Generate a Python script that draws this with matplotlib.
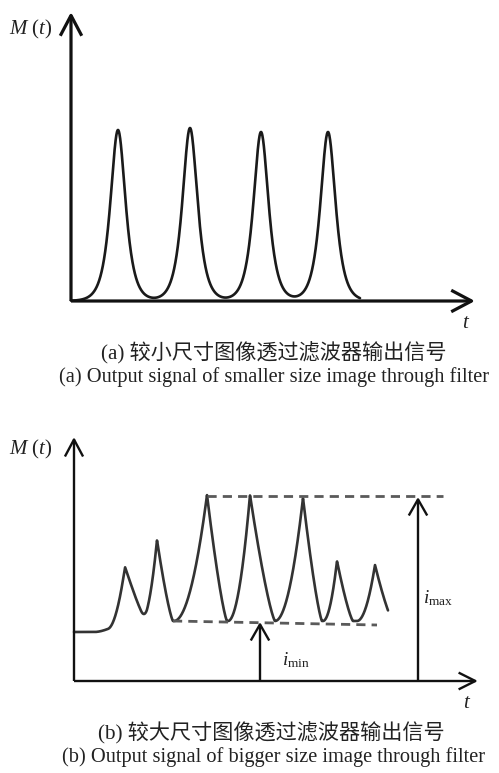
import numpy as np
import matplotlib
matplotlib.use("Agg")
import matplotlib.pyplot as plt

plt.rcParams['mathtext.fontset'] = 'custom'
plt.rcParams['mathtext.it'] = 'Liberation Serif:italic'
plt.rcParams['mathtext.rm'] = 'Liberation Serif'
plt.rcParams['font.family'] = ['Liberation Serif', 'Noto Sans CJK SC']

# ---------------- data (schematic units) ----------------
# panel (a): four equal peaks
a_peak_t = [47, 119, 190, 257]
a_peak_M = [171, 173, 169, 169]
a_peak_width = 6.7
a_t_end = 289

# panel (b): uneven peaks on a raised background
b_peak_t = [51, 83, 133, 176, 229, 263, 301]
b_peak_M = [114, 141, 186, 186, 183, 120, 116]
b_width_left = [17, 16, 33, 22, 28, 14, 18]
b_width_right = [22, 16, 20, 25, 19, 16, 18]
b_base_start = 49
b_base_level = 60
b_base_rise = [20, 60]
b_t_end = 314
i_min_line = ([99, 303], [60, 56])
i_max_line = ([133, 369], [185, 185])
i_min_t = 186
i_max_t = 344

cap_a_cn = "(a) 较小尺寸图像透过滤波器输出信号"
cap_a_en = "(a) Output signal of smaller size image through filter"
cap_b_cn = "(b) 较大尺寸图像透过滤波器输出信号"
cap_b_en = "(b) Output signal of bigger size image through filter"

W, H = 499, 773
fig = plt.figure(figsize=(W / 100, H / 100), dpi=100)


def make_ax(ox, oy, xl, xr, yt, yb):
    ax = fig.add_axes([xl / W, (H - yb) / H, (xr - xl) / W, (yb - yt) / H])
    ax.set_xlim(xl - ox, xr - ox)
    ax.set_ylim(oy - yb, oy - yt)
    ax.axis('off')
    return ax


def arrow(ax, x0, y0, x1, y1, lw, L, Wd, color='#111111'):
    wing = np.hypot(L, Wd) * 72 / 100
    hw = wing * Wd / L
    ax.annotate('', xy=(x1, y1), xytext=(x0, y0),
                arrowprops=dict(arrowstyle=f'->,head_length={wing:.2f},head_width={hw:.2f}',
                                lw=lw, color=color, shrinkA=0, shrinkB=0,
                                mutation_scale=1, capstyle='butt'),
                annotation_clip=False)


# ---------------- panel (a) ----------------
axa = make_ax(71, 301, 0, 499, 0, 330)
t = np.linspace(0, a_t_end, 1200)
M = np.zeros_like(t)
for c, h in zip(a_peak_t, a_peak_M):
    M += h / np.cosh((t - c) / a_peak_width)
axa.plot(t, M, color='#1a1a1a', lw=1.9, clip_on=False, solid_capstyle='round')
arrow(axa, 0, 0, 404, 0, 2.3, 18, 9.5)
arrow(axa, 0, 0, 0, 289, 2.3, 18, 9.5)
axa.text(-62, 272, r'$M\ (t)$', fontsize=15, ha='left', va='center', color='#222222')
axa.text(395, -22, r'$t$', fontsize=15, ha='center', va='center', color='#222222')

# ---------------- panel (b) ----------------
axb = make_ax(74, 681, 0, 499, 400, 720)
tb = np.linspace(0, b_t_end, 1500)


def base(x):
    s = np.clip((x - b_base_rise[0]) / (b_base_rise[1] - b_base_rise[0]), 0, 1)
    return b_base_start + (b_base_level - b_base_start) * (3 * s ** 2 - 2 * s ** 3)


Mb = base(tb)
for c, top, wl, wr in zip(b_peak_t, b_peak_M, b_width_left, b_width_right):
    h = top - base(np.array([c]))[0]
    d = tb - c
    left = np.where(d < 0, np.clip(1 + d / wl, 0, 1) ** 2, 0)
    right = np.where(d >= 0, np.clip(1 - d / wr, 0, 1) ** 1.3, 0)
    Mb = Mb + h * (left + right)
axb.plot(tb, Mb, color='#333333', lw=1.9, clip_on=False, solid_capstyle='round')

for xs, ys in (i_min_line, i_max_line):
    ln, = axb.plot(xs, ys, color='#5a5a5a', lw=2.0, clip_on=False)
    ln.set_dashes((3.3, 2.2))

arrow(axb, 0, 0, 404, 0, 1.7, 15, 7.5)
arrow(axb, 0, 0, 0, 244, 1.7, 15, 8)
arrow(axb, i_min_t, 0, i_min_t, i_min_line[1][0] - 1, 1.7, 14, 8)
arrow(axb, i_max_t, 0, i_max_t, i_max_line[1][0] - 1, 1.7, 14, 8)
axb.text(-65, 232, r'$M\ (t)$', fontsize=15, ha='left', va='center', color='#222222')
axb.text(393, -22, r'$t$', fontsize=15, ha='center', va='center', color='#222222')
axb.text(208, 16, r'$i_{\mathrm{min}}$', fontsize=13.8, ha='left', va='baseline', color='#222222')
axb.text(349, 78, r'$i_{\mathrm{max}}$', fontsize=13.8, ha='left', va='baseline', color='#222222')

# ---------------- captions ----------------
for txt, xc, yc, fs in ((cap_a_cn, 273.5, 353, 15.2), (cap_a_en, 274, 377, 14.7),
                        (cap_b_cn, 271.5, 733, 15.2), (cap_b_en, 274, 757, 14.7)):
    fig.text(xc / W, 1 - yc / H, txt, fontsize=fs, ha='center', va='center', color='#222222')

fig.savefig('out.png', dpi=100)
